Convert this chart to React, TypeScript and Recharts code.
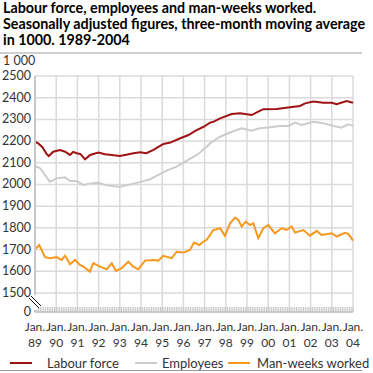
import React from 'react';
import { LineChart, Line, XAxis, YAxis, CartesianGrid, ReferenceLine } from 'recharts';

// [year (decimal), value in 1000]
const labourForce: [number, number][] = [
  [1989.0, 2197], [1989.15, 2190], [1989.35, 2172], [1989.55, 2140], [1989.65, 2131],
  [1989.86, 2151], [1990.18, 2159], [1990.42, 2151], [1990.65, 2136], [1990.8, 2150],
  [1990.97, 2144], [1991.15, 2140], [1991.36, 2116], [1991.6, 2136], [1991.99, 2147],
  [1992.3, 2139], [1992.62, 2136], [1993.0, 2131], [1993.25, 2136], [1993.64, 2144],
  [1993.96, 2148], [1994.25, 2144], [1994.59, 2159], [1994.8, 2172], [1995.06, 2187],
  [1995.38, 2193], [1995.85, 2213], [1996.24, 2228], [1996.56, 2247], [1996.95, 2266],
  [1997.26, 2285], [1997.41, 2289], [1997.73, 2305], [1998.28, 2325], [1998.67, 2328],
  [1999.22, 2320], [1999.53, 2336], [1999.77, 2347], [2000.4, 2348], [2001.03, 2356],
  [2001.5, 2362], [2001.74, 2374], [2002.13, 2382], [2002.6, 2377], [2003.0, 2377],
  [2003.23, 2370], [2003.7, 2385], [2004.0, 2377],
];

const employees: [number, number][] = [
  [1989.0, 2085], [1989.24, 2075], [1989.47, 2044], [1989.7, 2013], [1990.02, 2028],
  [1990.42, 2033], [1990.65, 2016], [1990.97, 2016], [1991.28, 1998], [1991.6, 2005],
  [1991.99, 2008], [1992.3, 1998], [1992.62, 1993], [1993.0, 1990], [1993.4, 1998],
  [1993.7, 2005], [1994.03, 2013], [1994.43, 2024], [1994.82, 2044], [1995.21, 2064],
  [1995.68, 2082], [1996.16, 2110], [1996.63, 2136], [1996.78, 2147], [1997.1, 2174],
  [1997.26, 2190], [1997.73, 2220], [1998.28, 2243], [1998.75, 2259], [1999.22, 2248],
  [1999.6, 2259], [2000.08, 2264], [2000.55, 2270], [2000.95, 2270], [2001.26, 2285],
  [2001.58, 2274], [2002.13, 2289], [2002.6, 2282], [2003.07, 2270], [2003.46, 2262],
  [2003.77, 2277], [2004.0, 2270],
];

const manWeeks: [number, number][] = [
  [1989.0, 1701], [1989.2, 1721], [1989.47, 1665], [1989.71, 1660], [1990.02, 1665],
  [1990.26, 1652], [1990.42, 1671], [1990.65, 1632], [1990.89, 1652], [1991.12, 1629],
  [1991.28, 1621], [1991.59, 1598], [1991.75, 1637], [1992.07, 1621], [1992.38, 1609],
  [1992.62, 1637], [1992.82, 1601], [1993.09, 1614], [1993.4, 1644], [1993.64, 1621],
  [1993.87, 1609], [1994.19, 1649], [1994.58, 1652], [1994.82, 1649], [1995.05, 1671],
  [1995.45, 1660], [1995.68, 1690], [1996.0, 1686], [1996.31, 1698], [1996.5, 1732],
  [1996.75, 1721], [1996.94, 1736], [1997.1, 1745], [1997.41, 1790], [1997.73, 1798],
  [1997.96, 1763], [1998.2, 1821], [1998.44, 1847], [1998.59, 1836], [1998.75, 1806],
  [1998.94, 1829], [1999.14, 1813], [1999.3, 1821], [1999.53, 1752], [1999.77, 1798],
  [2000.0, 1813], [2000.32, 1775], [2000.64, 1798], [2000.87, 1790], [2001.11, 1806],
  [2001.26, 1778], [2001.66, 1790], [2001.97, 1764], [2002.29, 1786], [2002.52, 1767],
  [2003.0, 1775], [2003.23, 1760], [2003.62, 1777], [2003.78, 1772], [2004.0, 1741],
];

const yearTicks = [1989, 1990, 1991, 1992, 1993, 1994, 1995, 1996, 1997, 1998, 1999, 2000, 2001, 2002, 2003, 2004];
const monthTicks = Array.from({ length: 181 }, (_, i) => 1989 + i / 12);
const AXIS_ZERO = 1412; // position of the broken-axis "0"
const yTicks = [AXIS_ZERO, 1500, 1600, 1700, 1800, 1900, 2000, 2100, 2200, 2300, 2400, 2500];

const seriesNames = ['Labour force', 'Employees', 'Man-weeks worked'];
const seriesColors = ['#9e1414', '#cccccc', '#f7981f'];

const FONT = 'Lato, "Open Sans", sans-serif';

const toRows = (arr: [number, number][]) => arr.map(([t, v]) => ({ t, v }));

const XTick = (props: any) => {
  const { x, y, payload } = props;
  const v = payload.value as number;
  const isJan = Math.abs(v - Math.round(v)) < 1e-6;
  return (
    <g>
      <line x1={x} x2={x} y1={y - 5} y2={y} stroke="#c4c4c4" strokeWidth={1} />
      {isJan && (
        <text x={x} y={y} textAnchor="middle" fontSize={12} fill="#333" fontFamily={FONT}>
          <tspan x={x} dy={19}>Jan.</tspan>
          <tspan x={x} dy={16}>{String(Math.round(v)).slice(2)}</tspan>
        </text>
      )}
    </g>
  );
};

const YTick = (props: any) => {
  const { x, y, payload } = props;
  const isZero = payload.value === AXIS_ZERO;
  const ax = x + 4;
  return (
    <g>
      <text x={x} y={y} dy={4} textAnchor="end" fontSize={12.5} fill="#333" fontFamily={FONT}>
        {isZero ? '0' : payload.value}
      </text>
      {isZero && (
        <g>
          <line x1={ax} x2={ax} y1={y - 17} y2={y - 2} stroke="#ffffff" strokeWidth={4} />
          <line x1={ax - 6} y1={y - 14} x2={ax + 4} y2={y - 4} stroke="#111" strokeWidth={1} />
          <line x1={ax - 4} y1={y - 16} x2={ax + 6} y2={y - 6} stroke="#111" strokeWidth={1} />
        </g>
      )}
    </g>
  );
};

export default function App() {
  return (
    <div style={{ position: 'absolute', left: 0, top: 0, width: 373, height: 373, background: '#fff', fontFamily: FONT }}>
      <div style={{ position: 'absolute', left: 3, top: 0, fontSize: 14.3, fontWeight: 700, lineHeight: '16px', color: '#000', whiteSpace: 'nowrap' }}>
        Labour force, employees and man-weeks worked.<br />
        Seasonally adjusted figures, three-month moving average<br />
        in 1000. 1989-2004
      </div>
      <div style={{ position: 'absolute', left: 0, top: 52, width: 362, height: 2, background: '#cfcfcf' }} />
      <div style={{ position: 'absolute', left: 3, top: 55, fontSize: 12.5, lineHeight: '12px', color: '#333' }}>1 000</div>
      <div style={{ position: 'absolute', left: 0, top: 0 }}>
        <LineChart width={373} height={373} margin={{ top: 76, right: 20, left: 0, bottom: 21 }}>
          <CartesianGrid horizontal vertical={false} stroke="#dadada" strokeWidth={1.5} />
          {yearTicks.slice(1).map((yr) => (
            <ReferenceLine key={yr} x={yr} stroke="#dadada" strokeWidth={1.5} />
          ))}
          <XAxis
            type="number"
            dataKey="t"
            domain={[1989, 2004]}
            ticks={monthTicks}
            interval={0}
            tickLine={false}
            tickSize={0}
            tickMargin={0}
            height={40}
            axisLine={{ stroke: '#c4c4c4', strokeWidth: 1.5 }}
            tick={<XTick />}
            allowDuplicatedCategory={false}
          />
          <YAxis
            type="number"
            domain={[AXIS_ZERO, 2500]}
            ticks={yTicks}
            interval={0}
            width={35}
            tickLine={false}
            tickSize={0}
            tickMargin={4}
            axisLine={{ stroke: '#c8c8c8', strokeWidth: 2 }}
            tick={<YTick />}
          />
          <Line data={toRows(employees)} dataKey="v" type="linear" stroke={seriesColors[1]} strokeWidth={2} dot={false} isAnimationActive={false} />
          <Line data={toRows(manWeeks)} dataKey="v" type="linear" stroke={seriesColors[2]} strokeWidth={2} dot={false} isAnimationActive={false} />
          <Line data={toRows(labourForce)} dataKey="v" type="linear" stroke={seriesColors[0]} strokeWidth={2} dot={false} isAnimationActive={false} />
        </LineChart>
      </div>
      <div style={{ position: 'absolute', left: 0, top: 355, width: 373, height: 16, fontSize: 13, color: '#333' }}>
        {[
          { left: 10, lineW: 22, textLeft: 47 },
          { left: 135, lineW: 22, textLeft: 162 },
          { left: 228, lineW: 22, textLeft: 257 },
        ].map((pos, i) => (
          <React.Fragment key={i}>
            <div style={{ position: 'absolute', left: pos.left, top: 7, width: pos.lineW, height: 2, background: seriesColors[i] }} />
            <div style={{ position: 'absolute', left: pos.textLeft, top: 0, lineHeight: '16px', whiteSpace: 'nowrap' }}>{seriesNames[i]}</div>
          </React.Fragment>
        ))}
      </div>
      <div style={{ position: 'absolute', left: 0, top: 370, width: 362, height: 1, background: '#999' }} />
    </div>
  );
}
